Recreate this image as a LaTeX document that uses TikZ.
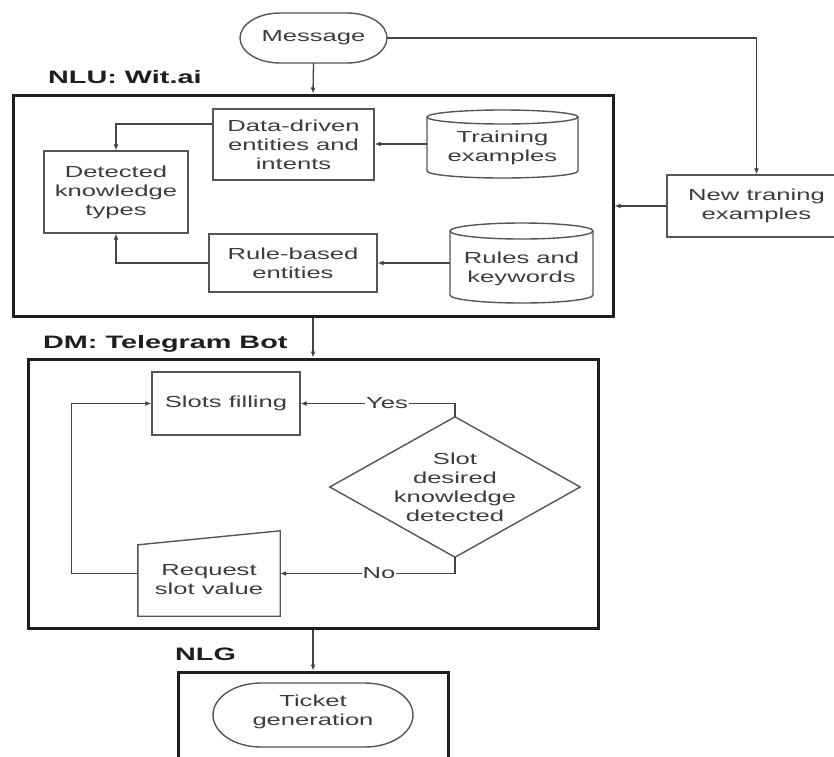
\documentclass[tikz,border=0pt]{standalone}
\usepackage{fontspec}
\setmainfont[FakeStretch=1.6]{Liberation Sans}
\usetikzlibrary{arrows.meta}

\definecolor{ink}{HTML}{3C3C3C}
\definecolor{edge}{HTML}{555555}
\definecolor{wire}{HTML}{444444}
\definecolor{frame}{HTML}{1E1E1E}

% capsule outline: centre (#1,#2), half width #3, half height #4, end radius #5
\newcommand\capsulepath[5]{%
  \pgfmathsetmacro\cpL{#1-#3}\pgfmathsetmacro\cpR{#1+#3}%
  \pgfmathsetmacro\cpT{#2-#4}\pgfmathsetmacro\cpB{#2+#4}%
  \pgfmathsetmacro\cpLi{\cpL+#5}\pgfmathsetmacro\cpRi{\cpR-#5}%
  \pgfmathsetmacro\cpKx{0.5523*#5}\pgfmathsetmacro\cpKy{0.5523*#4}%
  \draw[outline] (\cpLi,\cpT) -- (\cpRi,\cpT)
    .. controls (\cpRi+\cpKx,\cpT) and (\cpR,#2-\cpKy) .. (\cpR,#2)
    .. controls (\cpR,#2+\cpKy) and (\cpRi+\cpKx,\cpB) .. (\cpRi,\cpB)
    -- (\cpLi,\cpB)
    .. controls (\cpLi-\cpKx,\cpB) and (\cpL,#2+\cpKy) .. (\cpL,#2)
    .. controls (\cpL,#2-\cpKy) and (\cpLi-\cpKx,\cpT) .. (\cpLi,\cpT) -- cycle;}

% database drum: centre x #1, top #2, bottom #3, half width #4, lid radius #5
\newcommand\drumpath[5]{%
  \pgfmathsetmacro\dmL{#1-#4}\pgfmathsetmacro\dmR{#1+#4}%
  \pgfmathsetmacro\dmT{#2+#5}\pgfmathsetmacro\dmB{#3-#5}%
  \pgfmathsetmacro\dmKx{0.5523*#4}\pgfmathsetmacro\dmKy{0.5523*#5}%
  \draw[outline] (\dmL,\dmT) -- (\dmL,\dmB)
    .. controls (\dmL,\dmB+\dmKy) and (#1-\dmKx,#3) .. (#1,#3)
    .. controls (#1+\dmKx,#3) and (\dmR,\dmB+\dmKy) .. (\dmR,\dmB)
    -- (\dmR,\dmT);
  \draw[outline] (#1,\dmT) ellipse [x radius=#4, y radius=#5];}

\begin{document}
\begin{tikzpicture}[x=1pt,y=-1pt,
  txt/.style={font=\fontsize{16}{19}\selectfont, text=ink, align=center, inner sep=0pt},
  sized/.style 2 args={minimum width=#1, minimum height=#2},
  box/.style={txt, draw=edge, line width=1.4pt},
  outline/.style={draw=edge, line width=1.4pt},
  frame/.style={draw=frame, line width=3pt, inner sep=0pt},
  head/.style={font=\fontsize{18}{21}\selectfont\bfseries, text=frame, inner sep=0pt},
  flow/.style={draw=wire, line width=1.3pt, -{Latex[length=6pt,width=5pt]}},
  wirelbl/.style={font=\fontsize{16}{19}\selectfont, text=ink, fill=white, inner sep=1pt}]
\useasboundingbox (0,0) rectangle (834,756);

% ---------- stage frames and headings ----------
\node[frame, sized={600}{221}] (nlu) at (313,205.5) {};
\node[frame, sized={570}{269}] (dm) at (313,493.5) {};
\node[frame, sized={270}{118}] (nlg) at (313,731) {};
\node[head, anchor=base west] (nluhead) at (48,83) {NLU: Wit.ai};
\node[head, anchor=base west] (dmhead) at (43,348) {DM: Telegram Bot};
\node[head, anchor=base west] (nlghead) at (175,660) {NLG};

% ---------- input ----------
\capsulepath{313.5}{38}{73.5}{25}{40}
\node[txt, sized={147}{50}] (msg) at (313.5,38) {Message};
\node[box, sized={179}{62}] (ntr) at (756.5,206) {New traning\\examples};

% ---------- NLU content ----------
\node[box, sized={161}{71}] (dd) at (293.5,144.5) {Data-driven\\entities and\\intents};
\node[box, sized={144}{82}] (det) at (116,192) {Detected\\knowledge\\types};
\node[box, sized={168}{58}] (rb) at (293,263) {Rule-based\\entities};
\drumpath{502.5}{110}{178}{75.5}{7}
\node[txt, sized={151}{68}] (tr) at (502.5,144) {};
\node[txt] (trtext) at (502.5,148) {Training\\examples};
\drumpath{521.5}{223}{303}{71.5}{8}
\node[txt, sized={143}{80}] (rk) at (521.5,263) {};
\node[txt] (rktext) at (521.5,269) {Rules and\\keywords};

% ---------- DM content ----------
\node[box, sized={148}{63}] (sf) at (226,403.5) {Slots filling};
\node[txt, sized={250}{140}] (dec) at (455,487) {Slot\\desired\\knowledge\\detected};
\draw[outline] (dec.north) -- (dec.east) -- (dec.south) -- (dec.west) -- cycle;
\node[txt, sized={142}{85}] (rq) at (209,573.5) {};
\node[txt] (rqtext) at (209,580) {Request\\slot value};
\draw[outline] (rq.south west) -- (rq.south east) -- (rq.north east)
  -- ([yshift=-14pt]rq.north west) -- cycle;

% ---------- NLG content ----------
\capsulepath{313}{715}{100}{32}{48}
\node[txt, sized={200}{64}] (tk) at (313,715) {};
\node[txt] (tktext) at (313,712) {Ticket\\generation};

% ---------- connectors ----------
\draw[flow] (msg.south) -- (nlu.north);
\draw[flow] (msg.east) -| (ntr.north);
\draw[flow] (ntr.west) -- (ntr.west -| nlu.east);
\draw[flow] (tr.west) -- (tr.west -| dd.east);
\draw[flow] (rk.west) -- (rk.west -| rb.east);
\draw[flow] ([yshift=20.5pt]dd.west) -| (det.north);
\draw[flow] (rb.west) -| (det.south);
\draw[flow] (nlu.south) -- (dm.north);
\draw[flow] (dec.north) |- (sf.east);
\draw[flow] (dec.south) |- (rq.east);
\draw[flow] (rq.west) -- ++(-66,0) |- (sf.west);
\draw[flow] (dm.south) -- (nlg.north);
\node[wirelbl] (yes) at (387,403.5) {Yes};
\node[wirelbl] (no) at (379,573.5) {No};
\end{tikzpicture}
\end{document}
